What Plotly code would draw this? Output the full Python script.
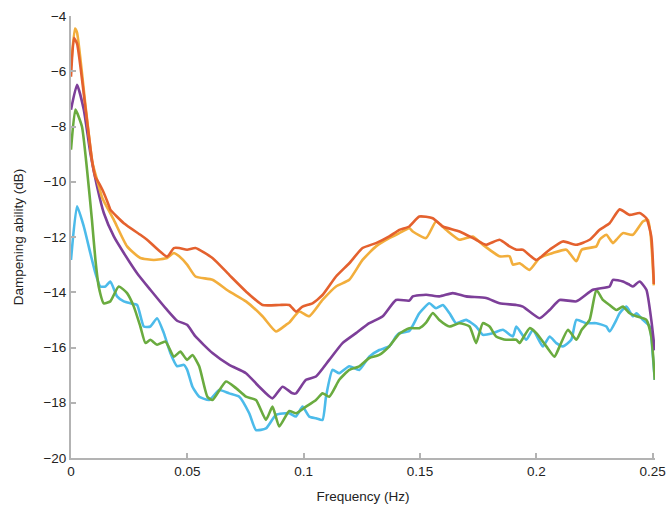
import plotly.graph_objects as go

# ---- data (frequency in Hz, dampening ability in dB) ----
red_f = [0, 0.0013, 0.0026, 0.0063, 0.0092, 0.0106, 0.0112, 0.0135, 0.0164, 0.0169, 0.0227, 0.0298, 0.0327, 0.0413, 0.0442,
         0.0465, 0.0499, 0.0535, 0.0608, 0.068, 0.0752, 0.0823, 0.0895, 0.0938, 0.0967, 0.0995, 0.1038, 0.1081, 0.1139,
         0.1196, 0.1253, 0.1311, 0.1368, 0.1411, 0.1454, 0.1497, 0.1555, 0.1598, 0.167, 0.1741, 0.1784, 0.1842, 0.1885,
         0.1914, 0.1942, 0.2, 0.2057, 0.2114, 0.2172, 0.2229, 0.2272, 0.2315, 0.2358, 0.2401, 0.2444, 0.2473, 0.2494, 0.2505]
red_v = [-6.2, -4.8, -5.0, -7.39, -9.32, -9.86, -9.93, -10.29, -10.89, -11.01, -11.5, -11.92, -12.1, -12.71, -12.4,
         -12.4, -12.46, -12.4, -12.76, -13.37, -13.97, -14.46, -14.46, -14.46, -14.7, -14.52, -14.4, -14.1, -13.43,
         -12.95, -12.4, -12.22, -11.98, -11.74, -11.62, -11.26, -11.32, -11.62, -11.8, -12.1, -12.28, -12.1, -12.34,
         -12.46, -12.46, -12.83, -12.46, -12.16, -12.28, -12.1, -11.74, -11.5, -11.0, -11.2, -11.13, -11.32, -11.98, -13.7]

yel_f = [0, 0.0017, 0.0026, 0.0063, 0.0092, 0.0112, 0.0135, 0.0184, 0.0241, 0.0298, 0.0356, 0.0413, 0.0442, 0.0465,
         0.0499, 0.0535, 0.0608, 0.068, 0.0752, 0.0823, 0.0881, 0.0924, 0.0938, 0.0981, 0.1024, 0.1081, 0.1139, 0.1196,
         0.1253, 0.1311, 0.1368, 0.1411, 0.1454, 0.1469, 0.1526, 0.1569, 0.1612, 0.167, 0.1727, 0.177, 0.1842, 0.1885,
         0.1899, 0.1928, 0.1971, 0.2014, 0.2071, 0.2129, 0.2172, 0.2195, 0.2258, 0.2272, 0.2301, 0.2329, 0.2344, 0.2372,
         0.2415, 0.2458, 0.248, 0.2505]
yel_v = [-5.8, -4.45, -4.6, -7.3, -9.3, -9.93, -10.6, -11.38, -12.34, -12.76, -12.83, -12.76, -12.58, -12.7,
         -13.0, -13.43, -13.55, -13.97, -14.33, -14.87, -15.42, -15.18, -15.1, -14.7, -14.87, -14.28, -13.79, -13.55,
         -12.83, -12.34, -12.04, -11.86, -11.68, -11.8, -12.04, -11.44, -11.74, -12.1, -11.98, -12.28, -12.7, -12.7,
         -13.0, -12.95, -13.19, -12.76, -12.58, -12.46, -12.88, -12.46, -12.34, -12.1, -11.92, -12.22, -12.1, -11.86,
         -11.92, -11.44, -11.38, -13.75]

pur_f = [0, 0.0026, 0.0055, 0.0083, 0.0112, 0.0141, 0.0184, 0.0227, 0.0284, 0.0341, 0.0413, 0.0456, 0.0499, 0.0535,
         0.0608, 0.068, 0.0752, 0.0809, 0.0866, 0.0909, 0.0952, 0.0967, 0.101, 0.1053, 0.111, 0.1167, 0.1225, 0.1282,
         0.134, 0.1397, 0.1454, 0.1469, 0.1526, 0.1583, 0.1641, 0.1698, 0.1784, 0.1842, 0.1914, 0.1942, 0.2014, 0.2057,
         0.21, 0.2172, 0.2243, 0.2315, 0.2329, 0.2372, 0.2401, 0.2415, 0.2444, 0.2473, 0.2494, 0.2509]
pur_v = [-7.39, -6.49, -7.39, -8.96, -10.17, -11.13, -11.98, -12.58, -13.31, -13.91, -14.64, -15.03, -15.18, -15.6,
         -16.2, -16.63, -16.93, -17.42, -17.84, -17.42, -17.66, -17.66, -17.17, -17.05, -16.45, -15.84, -15.48, -15.12,
         -14.87, -14.28, -14.3, -14.15, -14.09, -14.15, -14.03, -14.15, -14.21, -14.4, -14.46, -14.52, -14.94, -14.64,
         -14.28, -14.33, -13.91, -13.79, -13.55, -13.61, -13.73, -13.79, -13.61, -13.91, -15.0, -16.1]

grn_f = [0, 0.0019, 0.0047, 0.0069, 0.009, 0.0105, 0.0119, 0.0141, 0.0169, 0.0205, 0.0241, 0.027, 0.0298, 0.032,
         0.0341, 0.037, 0.0406, 0.0442, 0.047, 0.0499, 0.0522, 0.0551, 0.0586, 0.0608, 0.0666, 0.0709, 0.0752, 0.0795,
         0.0838, 0.0866, 0.0895, 0.0938, 0.0967, 0.101, 0.1053, 0.1081, 0.111, 0.1153, 0.1196, 0.1239, 0.1282, 0.1325,
         0.1368, 0.1411, 0.1454, 0.1497, 0.1526, 0.1555, 0.1583, 0.1627, 0.167, 0.1713, 0.1741, 0.177, 0.1799, 0.1827,
         0.187, 0.1914, 0.1928, 0.1971, 0.2, 0.2043, 0.2078, 0.21, 0.2136, 0.2172, 0.2195, 0.2229, 0.2258, 0.2286,
         0.2315, 0.2344, 0.2372, 0.2401, 0.243, 0.2473, 0.2494, 0.2509]
grn_v = [-8.84, -7.39, -8.0, -9.57, -11.38, -12.83, -13.79, -14.4, -14.33, -13.79, -14.03, -14.52, -15.24, -15.84,
         -15.72, -15.9, -15.78, -16.33, -16.15, -16.45, -16.27, -16.68, -17.78, -17.9, -17.23, -17.47, -17.78, -17.9,
         -18.62, -18.14, -18.86, -18.3, -18.38, -18.14, -17.9, -17.66, -17.78, -17.17, -16.81, -16.68, -16.38, -16.27,
         -15.96, -15.5, -15.3, -15.3, -15.1, -14.75, -15.0, -15.24, -15.12, -15.24, -15.84, -15.12, -15.24, -15.6,
         -15.72, -15.72, -15.84, -15.3, -15.48, -15.96, -16.33, -15.96, -15.36, -15.72, -15.36, -15.0, -13.91, -14.28,
         -14.46, -14.64, -14.52, -14.76, -14.87, -15.0, -15.6, -17.17]

blu_f = [0, 0.0026, 0.0055, 0.0083, 0.0105, 0.0126, 0.0148, 0.0169, 0.0198, 0.0227, 0.0255, 0.0284, 0.0313, 0.0341,
         0.037, 0.0399, 0.0427, 0.0456, 0.0485, 0.0499, 0.0522, 0.0551, 0.0594, 0.0637, 0.068, 0.0723, 0.0766, 0.0795,
         0.0838, 0.0881, 0.0938, 0.0967, 0.0995, 0.1024, 0.1053, 0.1081, 0.1096, 0.1124, 0.1153, 0.1196, 0.1239, 0.1282,
         0.1325, 0.1368, 0.1397, 0.1411, 0.1454, 0.1497, 0.154, 0.1569, 0.1598, 0.1627, 0.1655, 0.1698, 0.1741, 0.177,
         0.1813, 0.1856, 0.1899, 0.1914, 0.1957, 0.1985, 0.2028, 0.2057, 0.2086, 0.2114, 0.215, 0.2172, 0.2215, 0.2258,
         0.2301, 0.2315, 0.2344, 0.2358, 0.2387, 0.2415, 0.243, 0.2458, 0.2487, 0.2501, 0.2509]
blu_v = [-12.83, -10.89, -11.62, -12.58, -13.31, -13.79, -13.79, -13.61, -14.15, -14.33, -14.4, -14.46, -15.24, -15.24,
         -14.94, -15.48, -16.2, -16.68, -16.63, -16.8, -17.42, -17.78, -17.9, -17.54, -17.66, -17.78, -18.38, -18.99,
         -18.93, -18.44, -18.38, -18.5, -18.14, -18.5, -18.56, -18.62, -17.78, -16.81, -16.93, -16.68, -16.81, -16.33,
         -16.09, -15.96, -15.6, -15.48, -15.4, -14.76, -14.4, -14.58, -14.46, -14.76, -15.12, -15.0, -15.24, -15.54,
         -15.48, -15.36, -15.6, -15.24, -15.72, -15.36, -15.96, -15.6, -15.84, -15.96, -15.72, -15.0, -15.12, -15.12,
         -15.24, -15.42, -15.0, -14.76, -14.52, -14.87, -14.76, -15.0, -15.24, -16.33, -17.17]

x_ticks = [0, 0.05, 0.1, 0.15, 0.2, 0.25]
x_ticktext = ["0", "0.05", "0.1", "0.15", "0.2", "0.25"]
y_ticks = [-20, -18, -16, -14, -12, -10, -8, -6, -4]

series = [
    (blu_f, blu_v, "#4cbbea"),
    (grn_f, grn_v, "#6aab3f"),
    (pur_f, pur_v, "#7d3f99"),
    (yel_f, yel_v, "#f2ae3c"),
    (red_f, red_v, "#e4612e"),
]

FONT = "Liberation Sans, Arial, sans-serif"

fig = go.Figure()
for fx, fy, col in series:
    fig.add_trace(go.Scatter(x=fx, y=fy, mode="lines",
                             line=dict(color=col, width=2.6, shape="spline", smoothing=0.5),
                             showlegend=False, hoverinfo="skip"))

axis_common = dict(showgrid=False, zeroline=False, showline=True,
                   linecolor="#b3b3b3", linewidth=2, ticks="inside",
                   ticklen=5, tickwidth=1.5, tickcolor="#b3b3b3",
                   ticklabeloverflow="allow",
                   tickfont=dict(family=FONT, size=13.5, color="#222"))

fig.update_xaxes(range=[0, 0.251], tickvals=x_ticks, ticktext=x_ticktext,
                 title=dict(text="Frequency (Hz)", standoff=13,
                            font=dict(family=FONT, size=13.5, color="#222")),
                 **axis_common)
fig.update_yaxes(range=[-20, -4], tickvals=y_ticks,
                 title=dict(text="Dampening ability (dB)", standoff=17,
                            font=dict(family=FONT, size=13.5, color="#222")),
                 **axis_common)

fig.update_layout(width=667, height=509,
                  margin=dict(l=71, r=12, t=16, b=51, autoexpand=False),
                  paper_bgcolor="white", plot_bgcolor="white")

# remove the default page margin so the figure fills the window exactly
fig.write_html("out.html", config={"displayModeBar": False},
               post_script="document.body.style.margin='0';document.body.style.overflow='hidden';")
